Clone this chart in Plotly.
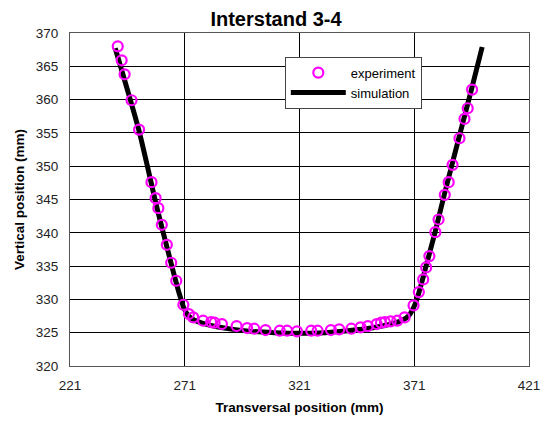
import plotly.graph_objects as go

exp_x = [241.8, 243.5, 244.8, 247.8, 251.1, 256.5, 258.3, 259.5, 261.0, 263.2, 265.1, 267.3,
         270.4, 272.8, 274.7, 279.0, 282.5, 284.0, 287.2, 293.6, 298.2, 301.3, 306.2, 312.4,
         315.6, 319.9, 326.1, 328.9, 334.7, 338.3, 343.6, 347.6, 350.8, 354.6, 356.5, 358.2,
         360.7, 363.6, 366.8, 370.7, 373.0, 374.9, 376.2, 377.6, 380.2, 381.6, 384.3, 386.0,
         387.7, 390.7, 392.9, 394.3, 396.2]
exp_y = [368.0, 365.9, 363.8, 359.9, 355.5, 347.6, 345.2, 343.7, 341.2, 338.2, 335.5, 332.8,
         329.2, 327.8, 327.3, 326.8, 326.6, 326.5, 326.3, 326.0, 325.7, 325.6, 325.4, 325.3,
         325.3, 325.2, 325.3, 325.3, 325.4, 325.5, 325.6, 325.8, 326.0, 326.3, 326.5, 326.6,
         326.7, 326.8, 327.3, 329.1, 331.1, 333.0, 334.8, 336.5, 340.1, 342.0, 345.7, 347.6,
         350.2, 354.2, 357.1, 358.7, 361.5]

sim_x = [240.7, 251.0, 259.0, 265.0, 268.5, 270.5, 272.5, 275.0, 279.0, 285.0, 292.0, 300.0,
         310.0, 321.0, 332.0, 342.0, 350.0, 357.0, 362.0, 366.0, 368.5, 370.5, 372.5, 376.0,
         380.0, 384.0, 388.0, 392.0, 396.0, 400.6]
sim_y = [367.7, 355.4, 343.6, 335.5, 331.0, 328.8, 327.6, 326.9, 326.4, 325.9, 325.5, 325.2,
         325.0, 324.9, 325.0, 325.3, 325.6, 326.0, 326.4, 326.9, 327.5, 328.6, 330.4, 334.8,
         340.0, 345.6, 351.0, 356.3, 361.6, 367.9]

x_ticks = [221, 271, 321, 371, 421]
y_ticks = [320, 325, 330, 335, 340, 345, 350, 355, 360, 365, 370]

fig = go.Figure()
fig.add_trace(go.Scatter(x=sim_x, y=sim_y, mode="lines", name="simulation",
                         line=dict(color="black", width=5, shape="spline", smoothing=0.6)))
fig.add_trace(go.Scatter(x=exp_x, y=exp_y, mode="markers", name="experiment",
                         marker=dict(symbol="circle-open", size=10, color="#FF00FF",
                                     line=dict(width=2.2, color="#FF00FF"))))

fig.update_layout(
    width=552, height=425,
    margin=dict(l=70, r=15, t=33, b=57),
    paper_bgcolor="white", plot_bgcolor="white",
    font=dict(family="Liberation Sans, Arial, sans-serif", size=13, color="#222"),
    title=dict(text="<b>Interstand 3-4</b>", x=0.5, xanchor="center", y=0.955, yanchor="middle",
               font=dict(size=20, color="black")),
    showlegend=True,
    legend=dict(x=0.468, y=0.929, xanchor="left", yanchor="top", traceorder="reversed",
                bgcolor="white", bordercolor="#444", borderwidth=1,
                font=dict(size=13, color="black"), itemwidth=55, tracegroupgap=2),
    xaxis=dict(range=[221, 421], tickvals=x_ticks, ticktext=[str(v) for v in x_ticks],
               showgrid=True, gridcolor="black", gridwidth=1, zeroline=False,
               showline=True, linecolor="#555", linewidth=1, mirror=True,
               ticks="", ticklabelstandoff=7, tickfont=dict(size=13.5, color="#222"),
               title=dict(text="<b>Transversal position (mm)</b>", font=dict(size=13.5, color="black"),
                          standoff=10)),
    yaxis=dict(range=[320, 370], tickvals=y_ticks,
               showgrid=True, gridcolor="black", gridwidth=1, zeroline=False,
               showline=True, linecolor="#555", linewidth=1, mirror=True,
               ticks="", ticklabelstandoff=8, tickfont=dict(size=13.5, color="#222"),
               title=dict(text="<b>Vertical position (mm)</b>", font=dict(size=13.5, color="black"),
                          standoff=8)),
)

fig.write_html("out.html")
